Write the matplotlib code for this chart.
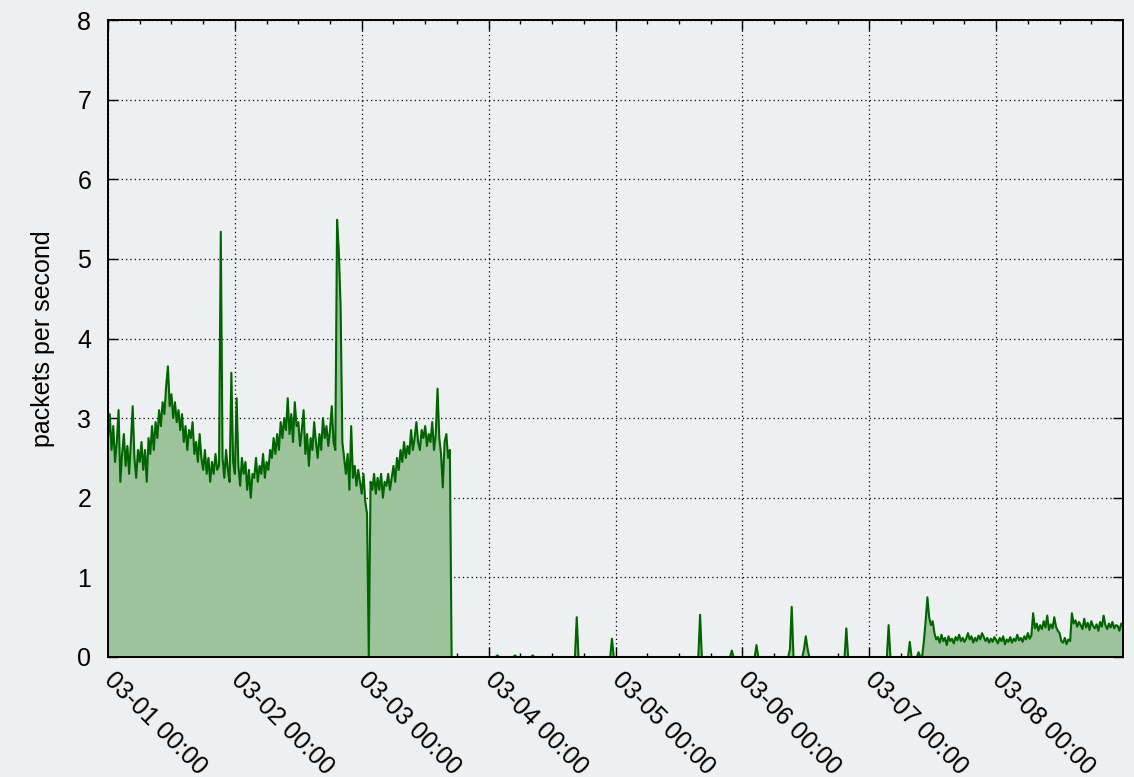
import numpy as np
import matplotlib.pyplot as plt
import matplotlib.dates as mdates
from matplotlib.ticker import FixedLocator
from datetime import datetime, timedelta

plt.rcParams['font.family'] = ['Liberation Sans', 'DejaVu Sans']

# samples every 20 minutes, 03-01 00:00 .. 03-09 00:00
start = datetime(2013, 3, 1)
step_min = 20
n_samples = 577
day_ticks = [start + timedelta(days=d) for d in range(8)]

# busy part, 03-01 00:00 .. 03-03 16:40 (3 samples per hour)
busy = [
    2.75, 3.05, 2.6,  2.9, 2.45, 2.7,  3.1, 2.2, 2.55,  2.8, 2.4, 2.65,
    2.3, 2.7, 3.15,  2.5, 2.25, 2.6,  2.45, 2.7, 2.35,  2.6, 2.2, 2.75,
    2.55, 2.9, 2.6,  2.95, 2.75, 3.1,  2.9, 3.2, 3.05,  3.4, 3.65, 3.15,
    3.3, 3.0, 3.2,  2.95, 3.1, 2.85,  3.05, 2.7, 2.9,  2.6, 2.85, 2.75,
    2.95, 2.55, 2.7,  2.45, 2.8, 2.5,  2.35, 2.6, 2.3,  2.5, 2.2, 2.45,
    2.3, 2.55, 2.35,  2.4, 5.34, 2.5,  2.25, 2.6, 2.35,  2.2, 3.57, 2.45,
    2.3, 3.25, 2.4,  2.15, 2.5, 2.3,  2.45, 2.1, 2.35,  2.0, 2.3, 2.25,
    2.5, 2.2, 2.4,  2.3, 2.55, 2.25,  2.45, 2.35, 2.6,  2.5, 2.75, 2.55,
    2.8, 2.6, 2.95,  2.75, 3.0, 2.85,  3.25, 2.8, 3.05,  2.7, 3.2, 2.9,
    2.95, 2.65, 2.85,  3.1, 2.55, 2.8,  2.4, 2.75, 2.6,  2.95, 2.7, 2.5,
    2.8, 2.6, 3.0,  2.75, 2.9, 2.65,  2.85, 3.15, 2.7,  2.6, 5.49, 5.09,
    4.4, 2.7, 2.5,  2.3, 2.55, 2.1,  2.9, 2.25, 2.4,  2.15, 2.35, 2.2,
    2.05, 2.3, 1.95,  1.8, 0.0, 2.2,  2.1, 2.3, 2.05,  2.25, 2.1, 2.3,
    2.0, 2.2, 2.15,  2.3, 2.1, 2.25,  2.4, 2.2, 2.5,  2.35, 2.6, 2.45,
    2.7, 2.5, 2.65,  2.55, 2.85, 2.6,  2.75, 2.95, 2.7,  2.6, 2.85, 2.75,
    2.9, 2.65, 2.8,  2.7, 2.95, 2.6,  2.8, 3.37, 2.75,  2.55, 2.13, 2.7,
    2.8, 2.5, 2.6,
]

# quiet days: isolated bursts (hour since 03-01 00:00, value)
burst_hours = [73.67, 77.0, 80.33, 88.67, 95.33, 112.0, 118.0, 122.67,
               129.0, 129.33, 131.67, 132.0, 132.33, 139.67, 147.67, 151.67, 153.33]
burst_values = [0.02, 0.02, 0.02, 0.5, 0.23, 0.53, 0.08, 0.15,
                0.1, 0.63, 0.1, 0.26, 0.1, 0.36, 0.4, 0.19, 0.06]

# traffic back, 03-07 10:00 .. 03-09 00:00
late_start_hour = 154
late = [
    0.0, 0.2, 0.45,  0.75, 0.5, 0.4,  0.45, 0.3, 0.22,  0.25, 0.18, 0.28,
    0.2, 0.24, 0.15,  0.26, 0.2, 0.23,  0.17, 0.25, 0.21,  0.28, 0.2, 0.24,
    0.19, 0.23, 0.3,  0.22, 0.26, 0.18,  0.24, 0.2, 0.27,  0.22, 0.3, 0.25,
    0.2, 0.24, 0.18,  0.23, 0.19, 0.25,  0.21, 0.17, 0.24,  0.2, 0.26, 0.16,
    0.22, 0.19, 0.25,  0.18, 0.23, 0.2,  0.28, 0.21, 0.24,  0.19, 0.26, 0.22,
    0.3, 0.23, 0.27,  0.55, 0.36, 0.42,  0.33, 0.4, 0.35,  0.45, 0.37, 0.52,
    0.34, 0.41, 0.36,  0.5, 0.38, 0.33,  0.3, 0.2, 0.18,  0.24, 0.16, 0.22,
    0.2, 0.55, 0.42,  0.46, 0.38, 0.44,  0.4, 0.35, 0.48,  0.37, 0.43, 0.34,
    0.45, 0.39, 0.36,  0.41, 0.33, 0.44,  0.38, 0.52, 0.4,  0.35, 0.42, 0.37,
    0.44, 0.36, 0.4,  0.39, 0.33, 0.42,  0.38,
]

# assemble series on the 20 min grid
per_hour = 60 // step_min
values = np.zeros(n_samples)
values[:len(busy)] = busy
for h, v in zip(burst_hours, burst_values):
    values[int(round(h * per_hour))] = v
i0 = late_start_hour * per_hour
values[i0:i0 + len(late)] = late
times = [start + timedelta(minutes=step_min * i) for i in range(n_samples)]

bg = '#eeeff1'
fig = plt.figure(figsize=(11.34, 7.77), dpi=100, facecolor=bg)
ax = fig.add_axes([108 / 1134, 1 - 657 / 777, 1015 / 1134, 637 / 777])
ax.set_facecolor(bg)

ax.fill_between(times, values, 0, color='#9cc39b', lw=0, zorder=2)
ax.plot(times, values, color='#006400', lw=1.5, zorder=3)

ax.set_xlim(start, start + timedelta(days=8))
ax.set_ylim(0, 8)

ax.xaxis.set_major_locator(FixedLocator(mdates.date2num(day_ticks)))
ax.xaxis.set_minor_locator(mdates.HourLocator(byhour=[6, 12, 18]))
ax.xaxis.set_major_formatter(mdates.DateFormatter('%m-%d %H:%M'))
ax.set_yticks(range(0, 9))

ax.tick_params(which='both', direction='in', top=True, right=True,
               labelsize=18, width=1.0, color='black')
ax.tick_params(which='major', length=7)
ax.tick_params(which='minor', length=3)
ax.tick_params(axis='y', pad=12)
ax.tick_params(axis='x', pad=14)
for lab in ax.get_xticklabels():
    lab.set_rotation(-45)
    lab.set_rotation_mode('anchor')
    lab.set_ha('left')
    lab.set_va('center')

ax.set_axisbelow(True)
ax.grid(True, which='major', color='black', lw=0.9, linestyle=(0, (1, 2.5)))

for sp in ax.spines.values():
    sp.set_linewidth(1.4)
    sp.set_zorder(5)

ax.set_ylabel('packets per second', fontsize=18, labelpad=16)

fig.savefig('out.png', dpi=100, facecolor=bg)
